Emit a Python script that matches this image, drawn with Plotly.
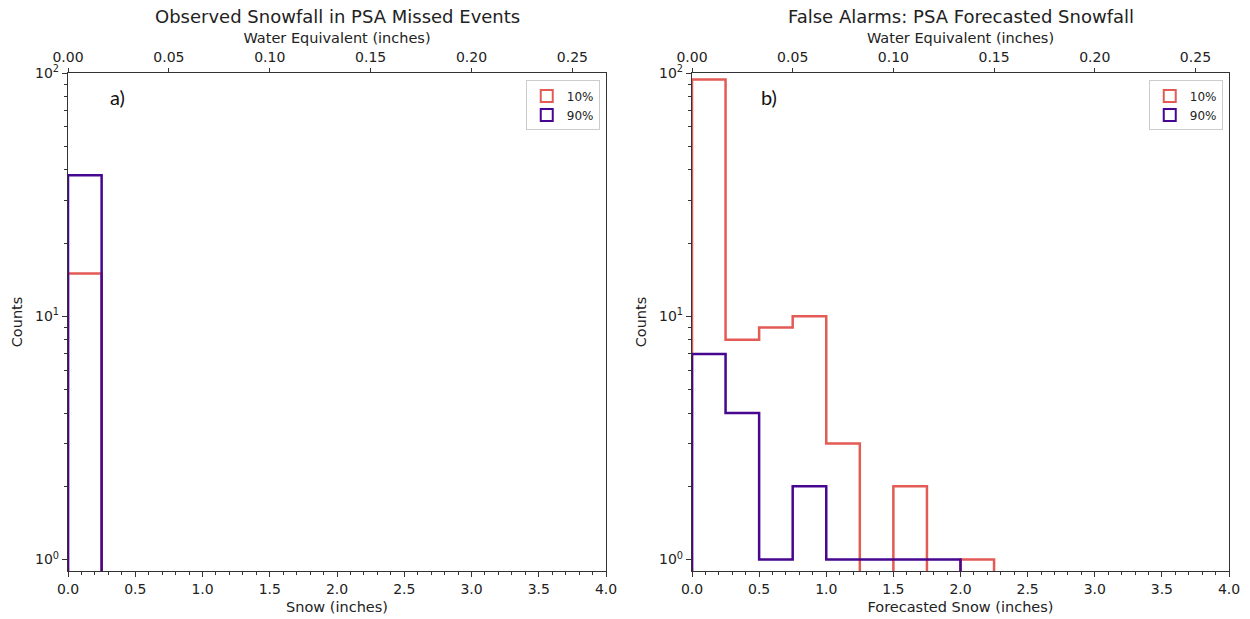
import plotly.graph_objects as go

# ---- data ----
bin_edges = [0.0, 0.25, 0.5, 0.75, 1.0, 1.25, 1.5, 1.75, 2.0, 2.25]
missed_10 = [15, 0, 0, 0, 0, 0, 0, 0, 0]
missed_90 = [38, 0, 0, 0, 0, 0, 0, 0, 0]
fa_10 = [94, 8, 9, 10, 3, 0, 2, 0, 1]
fa_90 = [7, 4, 1, 2, 1, 1, 1, 1, 0]
snow_ticks = [0.0, 0.5, 1.0, 1.5, 2.0, 2.5, 3.0, 3.5, 4.0]
swe_ticks = [0.00, 0.05, 0.10, 0.15, 0.20, 0.25]
snow_to_water = 15.0
labels = ["10%", "90%"]
RED = "#e35b55"
PURPLE = "#46068f"

FLOOR = 0.3  # below visible range (zeros drop off the log axis)
FONT = "DejaVu Sans"


def step_xy(edges, counts):
    ys = [c if c > 0 else FLOOR for c in counts]
    x = [edges[0]] + list(edges)
    y = [FLOOR] + ys + [FLOOR]
    return x, y


fig = go.Figure()

panels = [
    ("x", "y", "x2", missed_10, missed_90, "legend"),
    ("x3", "y3", "x4", fa_10, fa_90, "legend2"),
]
for xa, ya, xtop, c10, c90, leg in panels:
    for counts, color, lab in [(c10, RED, labels[0]), (c90, PURPLE, labels[1])]:
        sx, sy = step_xy(bin_edges, counts)
        fig.add_trace(go.Scatter(x=sx, y=sy, mode="lines", line_shape="hv",
                                 line=dict(color=color, width=2.5),
                                 xaxis=xa, yaxis=ya, showlegend=False,
                                 hoverinfo="skip"))
    # invisible trace so the top (water-equivalent) axis is drawn
    fig.add_trace(go.Scatter(x=[swe_ticks[0]], y=[FLOOR], mode="markers",
                             marker=dict(opacity=0), xaxis=xtop, yaxis=ya,
                             showlegend=False, hoverinfo="skip"))
    for color, lab in [(RED, labels[0]), (PURPLE, labels[1])]:
        fig.add_trace(go.Bar(x=[None], y=[None], name=lab, xaxis=xa, yaxis=ya,
                             marker=dict(color="rgba(0,0,0,0)",
                                         line=dict(color=color, width=2)),
                             legend=leg, showlegend=True))

W, H = 1250, 619
ydom = [1 - 571 / H, 1 - 73 / H]
xdomA = [68 / W, 606 / W]
xdomB = [692 / W, 1229 / W]

tickfont = dict(family=FONT, size=14, color="#222")
titlefont = dict(family=FONT, size=14.5, color="#222")
AX = "#333"

common_x = dict(range=[0, 4], tickvals=snow_ticks,
                ticktext=[f"{v:.1f}" for v in snow_ticks],
                ticks="outside", ticklen=5, tickcolor=AX, automargin=False,
                showline=True, linecolor=AX, linewidth=1.3,
                showgrid=False, zeroline=False, tickfont=tickfont,
                minor=dict(dtick=0.1, ticks="outside", ticklen=3, tickcolor=AX))
common_top = dict(range=[0, 4 / snow_to_water], tickvals=swe_ticks,
                  ticktext=[f"{v:.2f}" for v in swe_ticks],
                  side="top", ticks="outside", ticklen=4, tickcolor=AX, automargin=False,
                  showline=True, linecolor=AX, linewidth=1.3,
                  showgrid=False, zeroline=False, tickfont=tickfont,
                  title=dict(text="Water Equivalent (inches)", font=titlefont, standoff=2))
common_y = dict(type="log", range=[-0.047, 2.0], tickvals=[1, 10, 100],
                ticktext=["10<sup>0</sup>", "10<sup>1</sup>", "10<sup>2</sup>"],
                ticks="outside", ticklen=5, tickcolor=AX, automargin=False,
                showline=True, linecolor=AX, linewidth=1.3, mirror=True,
                showgrid=False, zeroline=False, tickfont=tickfont,
                minor=dict(ticks="outside", ticklen=3, tickcolor=AX,
                           tickvals=[k * m for m in (1, 10) for k in range(2, 10)]),
                title=dict(text="Counts", font=titlefont, standoff=8))

fig.update_layout(
    width=W, height=H, margin=dict(l=0, r=0, t=0, b=0),
    paper_bgcolor="white", plot_bgcolor="white",
    font=dict(family=FONT, color="#222"),
    xaxis=dict(domain=xdomA, anchor="y",
               title=dict(text="Snow (inches)", font=titlefont, standoff=5), **common_x),
    xaxis2=dict(domain=xdomA, anchor="y", overlaying="x", **common_top),
    yaxis=dict(domain=ydom, anchor="x", **common_y),
    xaxis3=dict(domain=xdomB, anchor="y3",
                title=dict(text="Forecasted Snow (inches)", font=titlefont, standoff=5), **common_x),
    xaxis4=dict(domain=xdomB, anchor="y3", overlaying="x3", **common_top),
    yaxis3=dict(domain=ydom, anchor="x3", **common_y),
    legend=dict(x=xdomA[1] - 0.005, y=ydom[1] - 0.012, xanchor="right", yanchor="top",
                bgcolor="white", bordercolor="#ccc", borderwidth=1,
                font=dict(family=FONT, size=12), itemwidth=30, tracegroupgap=2),
    legend2=dict(x=xdomB[1] - 0.005, y=ydom[1] - 0.012, xanchor="right", yanchor="top",
                 bgcolor="white", bordercolor="#ccc", borderwidth=1,
                 font=dict(family=FONT, size=12), itemwidth=30, tracegroupgap=2),
    showlegend=True,
    annotations=[
        dict(text="Observed Snowfall in PSA Missed Events", x=sum(xdomA) / 2, y=1 - 17 / H,
             xref="paper", yref="paper", showarrow=False, xanchor="center", yanchor="middle",
             font=dict(family=FONT, size=18, color="#222")),
        dict(text="False Alarms: PSA Forecasted Snowfall", x=sum(xdomB) / 2, y=1 - 17 / H,
             xref="paper", yref="paper", showarrow=False, xanchor="center", yanchor="middle",
             font=dict(family=FONT, size=18, color="#222")),
        dict(text="a)", x=0.3, y=1.9, xref="x", yref="y", showarrow=False,
             xanchor="left", yanchor="middle", font=dict(family="Lato", size=20, color="#111")),
        dict(text="b)", x=0.5, y=1.9, xref="x3", yref="y3", showarrow=False,
             xanchor="left", yanchor="middle", font=dict(family="Lato", size=20, color="#111")),
    ],
)

fig.write_html("out.html")
